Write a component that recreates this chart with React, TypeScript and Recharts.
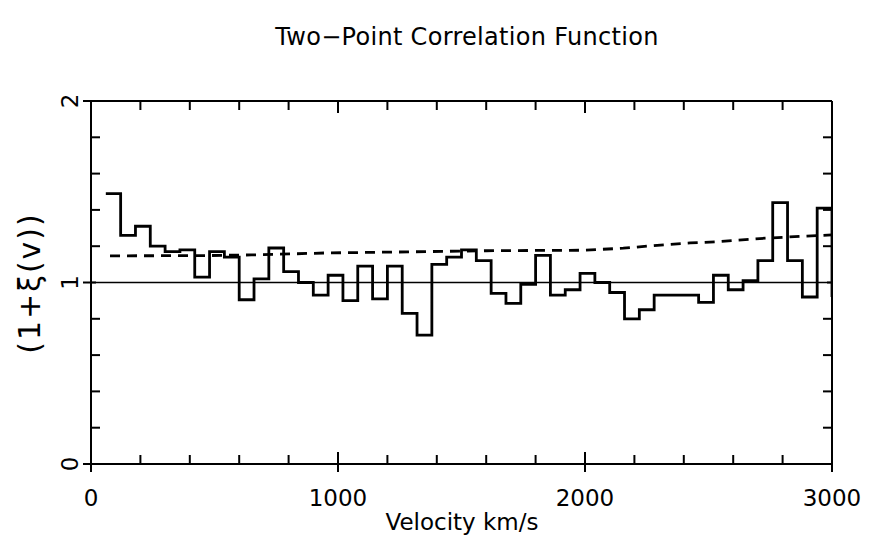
import React from 'react';
import { LineChart, Line, XAxis, YAxis, ReferenceLine } from 'recharts';

// Histogram bins (start velocity, km/s) and values of (1+xi(v))
const binStarts = [
  60, 120, 180, 240, 300, 360, 420, 480, 540, 600,
  660, 720, 780, 840, 900, 960, 1020, 1080, 1140, 1200,
  1260, 1320, 1380, 1440, 1500, 1560, 1620, 1680, 1740, 1800,
  1860, 1920, 1980, 2040, 2100, 2160, 2220, 2280, 2340, 2400,
  2460, 2520, 2580, 2640, 2700, 2760, 2820, 2880, 2940, 3000,
];
const binValues = [
  1.49, 1.26, 1.31, 1.2, 1.17, 1.18, 1.03, 1.17, 1.14, 0.905,
  1.02, 1.19, 1.06, 1.0, 0.93, 1.04, 0.9, 1.09, 0.91, 1.09,
  0.83, 0.71, 1.1, 1.14, 1.18, 1.12, 0.94, 0.885, 0.99, 1.15,
  0.93, 0.96, 1.05, 1.0, 0.945, 0.8, 0.85, 0.93, 0.93, 0.93,
  0.89, 1.04, 0.96, 1.01, 1.12, 1.44, 1.12, 0.92, 1.41, 0.92,
];

// Dashed model curve
const curveVelocities = [77, 450, 650, 960, 1300, 1600, 2000, 2155, 2292, 2426, 2527, 2730, 2880, 3000];
const curveValues = [1.147, 1.148, 1.152, 1.163, 1.169, 1.175, 1.178, 1.189, 1.205, 1.218, 1.224, 1.244, 1.255, 1.262];

// Axis ticks
const xTicks = [0, 200, 400, 600, 800, 1000, 1200, 1400, 1600, 1800, 2000, 2200, 2400, 2600, 2800, 3000];
const xMajor = [0, 1000, 2000, 3000];
const yTicks = [0, 0.2, 0.4, 0.6, 0.8, 1, 1.2, 1.4, 1.6, 1.8, 2];
const yMajor = [0, 1, 2];

const FONT = '"DejaVu Sans", sans-serif';

type Row = { v: number; hist?: number; model?: number };
const rowMap = new Map<number, Row>();
binStarts.forEach((v, i) => {
  const r = rowMap.get(v) || { v };
  r.hist = binValues[i];
  rowMap.set(v, r);
});
curveVelocities.forEach((v, i) => {
  const r = rowMap.get(v) || { v };
  r.model = curveValues[i];
  rowMap.set(v, r);
});
const data = Array.from(rowMap.values()).sort((a, b) => a.v - b.v);

const isMajorX = (v: number) => xMajor.includes(v);
const isMajorY = (v: number) => yMajor.some((m) => Math.abs(m - v) < 1e-6);

const BottomTick = (props: any) => {
  const { x, y, payload } = props;
  const major = isMajorX(payload.value);
  return (
    <g>
      <line x1={x} x2={x} y1={major ? y + 8 : y} y2={y - (major ? 12 : 9)} stroke="#000" strokeWidth={2} />
      {major && (
        <text x={x} y={y + 42} textAnchor="middle" fontSize={23} fontFamily={FONT} fill="#000">
          {payload.value}
        </text>
      )}
    </g>
  );
};

const TopTick = (props: any) => {
  const { x, y, payload } = props;
  const major = isMajorX(payload.value);
  return <line x1={x} x2={x} y1={y} y2={y + (major ? 12 : 9)} stroke="#000" strokeWidth={2} />;
};

const LeftTick = (props: any) => {
  const { x, y, payload } = props;
  const major = isMajorY(payload.value);
  const tx = x - 13;
  return (
    <g>
      <line x1={major ? x - 8 : x} x2={x + (major ? 5 : 9)} y1={y} y2={y} stroke="#000" strokeWidth={2} />
      {major && (
        <text
          x={tx}
          y={y}
          transform={`rotate(-90 ${tx} ${y})`}
          textAnchor="middle"
          fontSize={23}
          fontFamily={FONT}
          fill="#000"
        >
          {String(payload.value)}
        </text>
      )}
    </g>
  );
};

const RightTick = (props: any) => {
  const { x, y, payload } = props;
  const major = isMajorY(payload.value);
  return <line x1={x} x2={x - (major ? 5 : 9)} y1={y} y2={y} stroke="#000" strokeWidth={2} />;
};

export default function App() {
  return (
    <div style={{ position: 'absolute', left: 0, top: 0, width: 871, height: 555, background: '#fff' }}>
      <LineChart
        width={871}
        height={555}
        data={data}
        margin={{ top: 100, right: 38, bottom: 90, left: 90 }}
      >
        <XAxis
          dataKey="v"
          type="number"
          domain={[0, 3000]}
          ticks={xTicks}
          interval={0}
          height={1}
          tickSize={0}
          tickMargin={0}
          tick={<BottomTick />}
          axisLine={{ stroke: '#000', strokeWidth: 2 }}
          allowDataOverflow
        />
        <XAxis
          xAxisId="top"
          orientation="top"
          dataKey="v"
          type="number"
          domain={[0, 3000]}
          ticks={xTicks}
          interval={0}
          height={1}
          tickSize={0}
          tickMargin={0}
          tick={<TopTick />}
          axisLine={{ stroke: '#000', strokeWidth: 2 }}
          allowDataOverflow
        />
        <YAxis
          type="number"
          domain={[0, 2]}
          ticks={yTicks}
          interval={0}
          width={1}
          tickSize={0}
          tickMargin={0}
          tick={<LeftTick />}
          axisLine={{ stroke: '#000', strokeWidth: 2 }}
          allowDataOverflow
        />
        <YAxis
          yAxisId="right"
          orientation="right"
          type="number"
          domain={[0, 2]}
          ticks={yTicks}
          interval={0}
          width={1}
          tickSize={0}
          tickMargin={0}
          tick={<RightTick />}
          axisLine={{ stroke: '#000', strokeWidth: 2 }}
          allowDataOverflow
        />
        <ReferenceLine y={1} stroke="#000" strokeWidth={1.5} />
        <Line
          dataKey="model"
          type="linear"
          stroke="#000"
          strokeWidth={2.8}
          strokeDasharray="10 7"
          dot={false}
          connectNulls
          isAnimationActive={false}
        />
        <Line
          dataKey="hist"
          type="stepAfter"
          stroke="#000"
          strokeWidth={2.8}
          dot={false}
          connectNulls
          isAnimationActive={false}
        />
        <text x={467} y={45} textAnchor="middle" fontSize={24} fontFamily={FONT} fill="#000" letterSpacing={0.3}>
          Two−Point Correlation Function
        </text>
        <text x={462} y={530} textAnchor="middle" fontSize={23} fontFamily={FONT} fill="#000">
          Velocity km/s
        </text>
        <text
          x={40}
          y={283}
          transform="rotate(-90 40 283)"
          textAnchor="middle"
          fontSize={30}
          fontFamily={FONT}
          fill="#000"
          letterSpacing={2}
        >
          (1+ξ(v))
        </text>
      </LineChart>
    </div>
  );
}
